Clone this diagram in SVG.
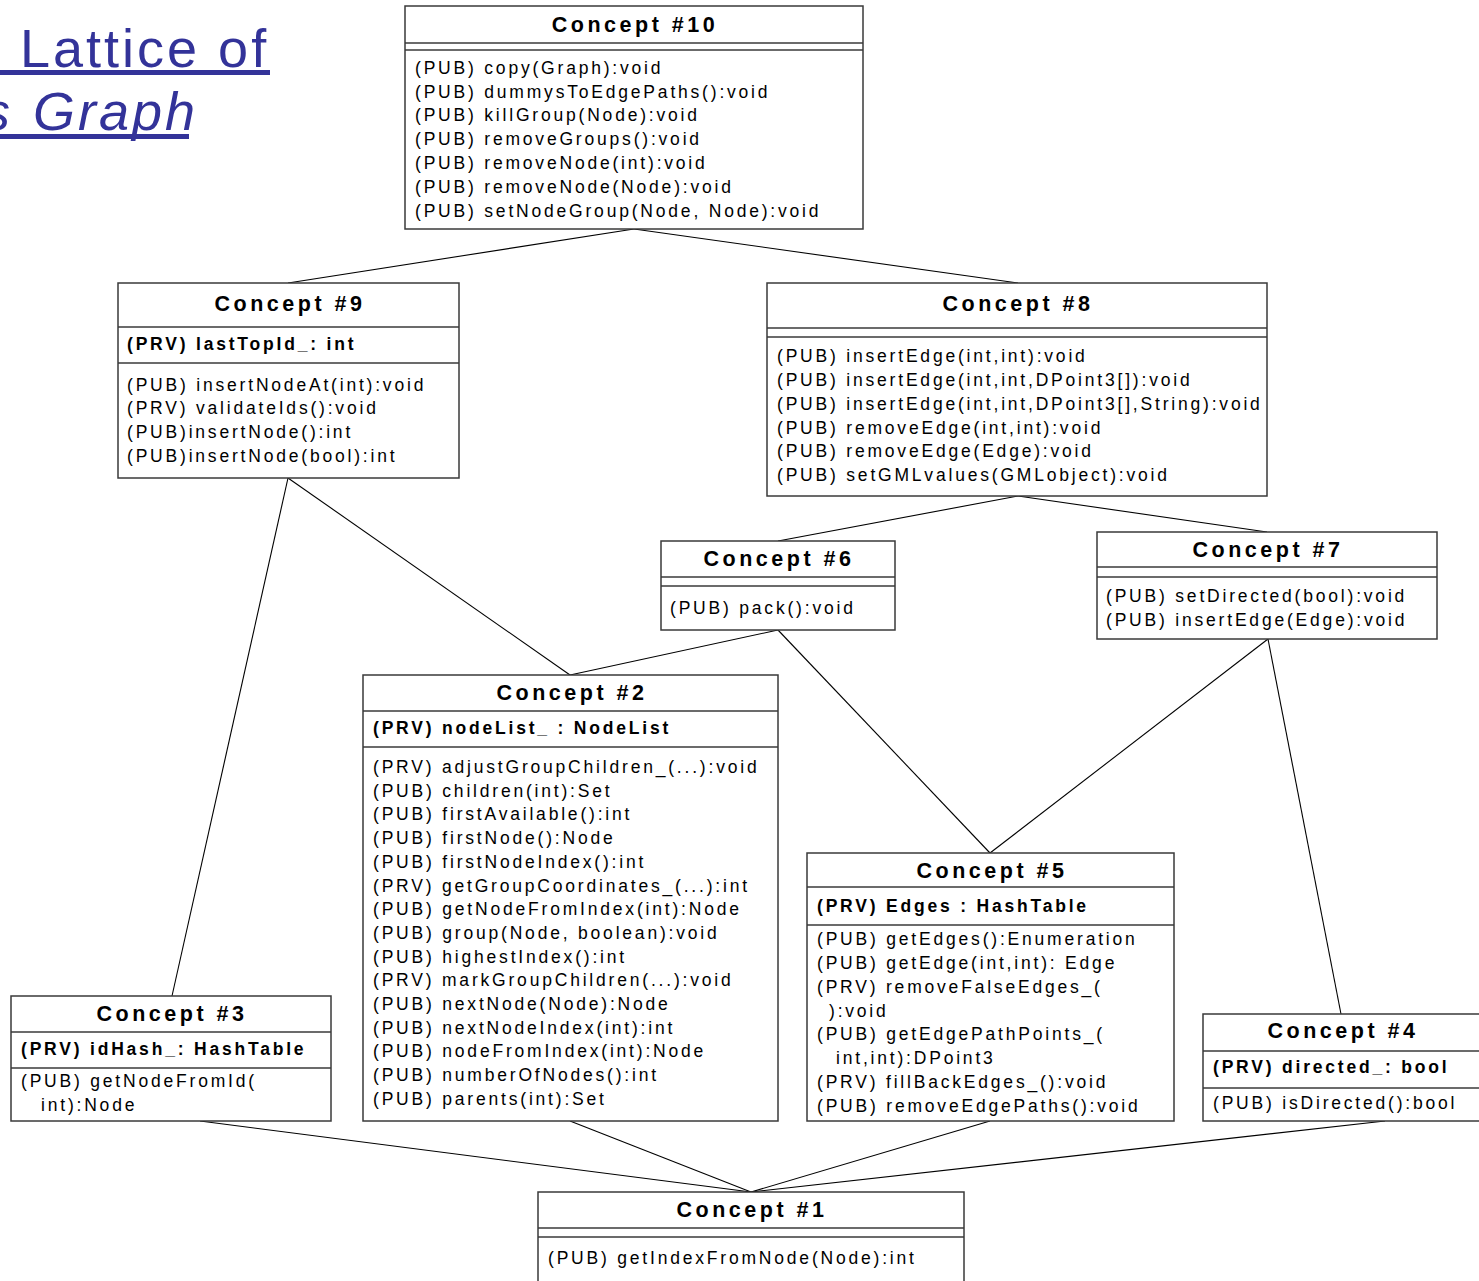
<svg xmlns="http://www.w3.org/2000/svg" width="1479" height="1281" viewBox="0 0 1479 1281">
  <style>
    .box { fill: #ffffff; stroke: #3a3a3a; stroke-width: 1.5; }
    .sep { stroke: #3a3a3a; stroke-width: 1.5; }
    .edge { stroke: #000000; stroke-width: 1.1; fill: none; }
    .ttl { font-family: "Liberation Sans", Arial, sans-serif; font-weight: bold; font-size: 21.5px; letter-spacing: 3.5px; text-anchor: middle; fill: #000; }
    .att { font-family: "Liberation Sans", Arial, sans-serif; font-weight: bold; font-size: 17.5px; letter-spacing: 2.8px; fill: #000; }
    .op { font-family: "Liberation Sans", Arial, sans-serif; font-size: 17.5px; letter-spacing: 2.8px; fill: #000; }
    .head { font-family: "Liberation Sans", Arial, sans-serif; font-size: 54px; letter-spacing: 3px; fill: #333399; }
  </style>

  <!-- slide heading -->
  <g id="heading">
    <text class="head" x="20" y="67">Lattice of</text>
    <rect x="0" y="70" width="270" height="5" fill="#333399"/>
    <text class="head" y="130" font-style="italic"><tspan x="-17">s </tspan><tspan x="33">Graph</tspan></text>
    <rect x="0" y="134" width="189" height="5" fill="#333399"/>
  </g>

  <!-- lattice edges -->
  <g id="connectors">
    <line class="edge" x1="634" y1="229" x2="288" y2="283"/>
    <line class="edge" x1="634" y1="229" x2="1018" y2="283"/>
    <line class="edge" x1="288" y1="478" x2="172" y2="996"/>
    <line class="edge" x1="288" y1="478" x2="570" y2="675"/>
    <line class="edge" x1="1018" y1="496" x2="778" y2="541"/>
    <line class="edge" x1="1018" y1="496" x2="1267" y2="532"/>
    <line class="edge" x1="778" y1="630" x2="570" y2="675"/>
    <line class="edge" x1="778" y1="630" x2="990" y2="853"/>
    <line class="edge" x1="1268" y1="639" x2="990" y2="853"/>
    <line class="edge" x1="1268" y1="639" x2="1341" y2="1014"/>
    <line class="edge" x1="200" y1="1121" x2="751" y2="1192"/>
    <line class="edge" x1="570" y1="1121" x2="751" y2="1192"/>
    <line class="edge" x1="990" y1="1121" x2="751" y2="1192"/>
    <line class="edge" x1="1385" y1="1121" x2="751" y2="1192"/>
  </g>

  <g id="concept10">
    <rect class="box" x="405" y="6" width="458" height="223"/>
    <line class="sep" x1="405" y1="43" x2="863" y2="43"/>
    <line class="sep" x1="405" y1="50" x2="863" y2="50"/>
    <text class="ttl" x="635" y="32">Concept #10</text>
    <text class="op" x="415" y="74">(PUB) copy(Graph):void</text>
    <text class="op" x="415" y="98">(PUB) dummysToEdgePaths():void</text>
    <text class="op" x="415" y="121">(PUB) killGroup(Node):void</text>
    <text class="op" x="415" y="145">(PUB) removeGroups():void</text>
    <text class="op" x="415" y="169">(PUB) removeNode(int):void</text>
    <text class="op" x="415" y="193">(PUB) removeNode(Node):void</text>
    <text class="op" x="415" y="217">(PUB) setNodeGroup(Node, Node):void</text>
  </g>

  <g id="concept9">
    <rect class="box" x="118" y="283" width="341" height="195"/>
    <line class="sep" x1="118" y1="327" x2="459" y2="327"/>
    <line class="sep" x1="118" y1="363" x2="459" y2="363"/>
    <text class="ttl" x="290" y="311">Concept #9</text>
    <text class="att" x="127" y="350">(PRV) lastTopId_: int</text>
    <text class="op" x="127" y="391">(PUB) insertNodeAt(int):void</text>
    <text class="op" x="127" y="414">(PRV) validateIds():void</text>
    <text class="op" x="127" y="438">(PUB)insertNode():int</text>
    <text class="op" x="127" y="462">(PUB)insertNode(bool):int</text>
  </g>

  <g id="concept8">
    <rect class="box" x="767" y="283" width="500" height="213"/>
    <line class="sep" x1="767" y1="328" x2="1267" y2="328"/>
    <line class="sep" x1="767" y1="337" x2="1267" y2="337"/>
    <text class="ttl" x="1018" y="311">Concept #8</text>
    <text class="op" x="777" y="362">(PUB) insertEdge(int,int):void</text>
    <text class="op" x="777" y="386">(PUB) insertEdge(int,int,DPoint3[]):void</text>
    <text class="op" x="777" y="410">(PUB) insertEdge(int,int,DPoint3[],String):void</text>
    <text class="op" x="777" y="434">(PUB) removeEdge(int,int):void</text>
    <text class="op" x="777" y="457">(PUB) removeEdge(Edge):void</text>
    <text class="op" x="777" y="481">(PUB) setGMLvalues(GMLobject):void</text>
  </g>

  <g id="concept6">
    <rect class="box" x="661" y="541" width="234" height="89"/>
    <line class="sep" x1="661" y1="577" x2="895" y2="577"/>
    <line class="sep" x1="661" y1="586" x2="895" y2="586"/>
    <text class="ttl" x="779" y="566">Concept #6</text>
    <text class="op" x="670" y="614">(PUB) pack():void</text>
  </g>

  <g id="concept7">
    <rect class="box" x="1097" y="532" width="340" height="107"/>
    <line class="sep" x1="1097" y1="567" x2="1437" y2="567"/>
    <line class="sep" x1="1097" y1="577" x2="1437" y2="577"/>
    <text class="ttl" x="1268" y="557">Concept #7</text>
    <text class="op" x="1106" y="602">(PUB) setDirected(bool):void</text>
    <text class="op" x="1106" y="626">(PUB) insertEdge(Edge):void</text>
  </g>

  <g id="concept2">
    <rect class="box" x="363" y="675" width="415" height="446"/>
    <line class="sep" x1="363" y1="711" x2="778" y2="711"/>
    <line class="sep" x1="363" y1="747" x2="778" y2="747"/>
    <text class="ttl" x="572" y="700">Concept #2</text>
    <text class="att" x="373" y="734">(PRV) nodeList_ : NodeList</text>
    <text class="op" x="373" y="773">(PRV) adjustGroupChildren_(...):void</text>
    <text class="op" x="373" y="796.7">(PUB) children(int):Set</text>
    <text class="op" x="373" y="820.4">(PUB) firstAvailable():int</text>
    <text class="op" x="373" y="844.1">(PUB) firstNode():Node</text>
    <text class="op" x="373" y="867.8">(PUB) firstNodeIndex():int</text>
    <text class="op" x="373" y="891.5">(PRV) getGroupCoordinates_(...):int</text>
    <text class="op" x="373" y="915.2">(PUB) getNodeFromIndex(int):Node</text>
    <text class="op" x="373" y="938.9">(PUB) group(Node, boolean):void</text>
    <text class="op" x="373" y="962.6">(PUB) highestIndex():int</text>
    <text class="op" x="373" y="986.3">(PRV) markGroupChildren(...):void</text>
    <text class="op" x="373" y="1010">(PUB) nextNode(Node):Node</text>
    <text class="op" x="373" y="1033.7">(PUB) nextNodeIndex(int):int</text>
    <text class="op" x="373" y="1057.4">(PUB) nodeFromIndex(int):Node</text>
    <text class="op" x="373" y="1081.1">(PUB) numberOfNodes():int</text>
    <text class="op" x="373" y="1104.8">(PUB) parents(int):Set</text>
  </g>

  <g id="concept5">
    <rect class="box" x="807" y="853" width="367" height="268"/>
    <line class="sep" x1="807" y1="887" x2="1174" y2="887"/>
    <line class="sep" x1="807" y1="925" x2="1174" y2="925"/>
    <text class="ttl" x="992" y="878">Concept #5</text>
    <text class="att" x="817" y="912">(PRV) Edges : HashTable</text>
    <text class="op" x="817" y="945">(PUB) getEdges():Enumeration</text>
    <text class="op" x="817" y="968.9">(PUB) getEdge(int,int): Edge</text>
    <text class="op" x="817" y="992.7">(PRV) removeFalseEdges_(</text>
    <text class="op" x="829" y="1016.6">):void</text>
    <text class="op" x="817" y="1040.4">(PUB) getEdgePathPoints_(</text>
    <text class="op" x="836" y="1064.3">int,int):DPoint3</text>
    <text class="op" x="817" y="1088.1">(PRV) fillBackEdges_():void</text>
    <text class="op" x="817" y="1112">(PUB) removeEdgePaths():void</text>
  </g>

  <g id="concept3">
    <rect class="box" x="11" y="996" width="320" height="125"/>
    <line class="sep" x1="11" y1="1032" x2="331" y2="1032"/>
    <line class="sep" x1="11" y1="1068" x2="331" y2="1068"/>
    <text class="ttl" x="172" y="1021">Concept #3</text>
    <text class="att" x="21" y="1055">(PRV) idHash_: HashTable</text>
    <text class="op" x="21" y="1087">(PUB) getNodeFromId(</text>
    <text class="op" x="41" y="1111">int):Node</text>
  </g>

  <g id="concept4">
    <rect class="box" x="1203" y="1014" width="280" height="107"/>
    <line class="sep" x1="1203" y1="1051" x2="1483" y2="1051"/>
    <line class="sep" x1="1203" y1="1088" x2="1483" y2="1088"/>
    <text class="ttl" x="1343" y="1038">Concept #4</text>
    <text class="att" x="1213" y="1073">(PRV) directed_: bool</text>
    <text class="op" x="1213" y="1109">(PUB) isDirected():bool</text>
  </g>

  <g id="concept1">
    <rect class="box" x="538" y="1192" width="426" height="100"/>
    <line class="sep" x1="538" y1="1228" x2="964" y2="1228"/>
    <line class="sep" x1="538" y1="1237" x2="964" y2="1237"/>
    <text class="ttl" x="752" y="1217">Concept #1</text>
    <text class="op" x="548" y="1264">(PUB) getIndexFromNode(Node):int</text>
  </g>
</svg>
